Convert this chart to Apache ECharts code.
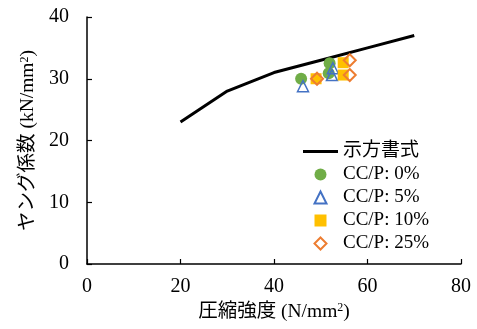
<!DOCTYPE html>
<html>
<head>
<meta charset="utf-8">
<script src="https://cdn.jsdelivr.net/npm/echarts@6/dist/echarts.min.js"></script>
<style>html,body{margin:0;padding:0;background:#fff}#c{width:477px;height:329px}</style>
</head>
<body>
<div id="c"></div>
<script>
const seriesNames = ['示方書式', 'CC/P: 0%', 'CC/P: 5%', 'CC/P: 10%', 'CC/P: 25%'];
const specLine = [[20, 23], [30, 28], [40, 31], [50, 33], [60, 35], [70, 37]];
const cc0 = [[45.8, 30.0], [51.9, 32.5], [51.7, 30.9]];
const cc5 = [[46.2, 28.8], [52.6, 31.7], [52.4, 30.6]];
const cc10 = [[49.0, 30.0], [54.8, 32.6], [54.8, 30.6]];
const cc25 = [[49.2, 30.0], [56.2, 33.0], [56.2, 30.6]];
const xTicks = [0, 20, 40, 60, 80];
const yTicks = [0, 10, 20, 30, 40];

const FONT = '"Liberation Serif", "Noto Sans CJK JP", serif';
const ICON_LINE = 'path://M0,0H37V3H0Z';
const ICON_CIRCLE = 'path://M50,0A50,50,0,1,1,50,100A50,50,0,1,1,50,0Z';
const ICON_TRI = 'path://M50,0L100,100L0,100Z';
const ICON_RECT = 'path://M0,0H100V100H0Z';
const ICON_DIA = 'path://M50,0L100,50L50,100L0,50Z';
const rich = {
  a: { fontSize: 19.5, fontFamily: FONT, color: '#000' },
  s: { fontSize: 12, fontFamily: FONT, color: '#000', verticalAlign: 'top', padding: [0, 0, 7, 0] }
};
const chart = echarts.init(document.getElementById('c'));
chart.setOption({
  animation: false,
  grid: { left: 87, right: 16, top: 17, bottom: 65 },
  xAxis: {
    type: 'value', min: xTicks[0], max: xTicks[xTicks.length - 1], interval: 20,
    axisLine: { lineStyle: { color: '#000', width: 1.5 } },
    axisTick: { inside: true, length: 5, lineStyle: { color: '#000', width: 1.2 } },
    splitLine: { show: false },
    axisLabel: { color: '#000', fontSize: 20, fontFamily: FONT, margin: 13 },
    name: '{a|圧縮強度 (N/mm}{s|2}{a|)}',
    nameLocation: 'middle', nameGap: 38,
    nameTextStyle: { rich }
  },
  yAxis: {
    type: 'value', min: yTicks[0], max: yTicks[yTicks.length - 1], interval: 10,
    axisLine: { show: true, lineStyle: { color: '#000', width: 1.5 } },
    axisTick: { show: true, inside: true, length: 5, lineStyle: { color: '#000', width: 1.2 } },
    splitLine: { show: false },
    axisLabel: { color: '#000', fontSize: 20, fontFamily: FONT, margin: 18 },
    name: '{a|ヤング係数 (kN/mm}{s|2}{a|)}',
    nameLocation: 'middle', nameGap: 48,
    nameTextStyle: { rich }
  },
  legend: {
    orient: 'vertical', left: 298, top: 137,
    itemWidth: 35, itemHeight: 12, itemGap: 4,
    symbolKeepAspect: true,
    textStyle: { fontSize: 19, fontFamily: FONT, color: '#000' },
    data: [
      { name: seriesNames[0], icon: ICON_LINE, itemStyle: { color: '#000' } },
      { name: seriesNames[1], icon: ICON_CIRCLE },
      { name: seriesNames[2], icon: ICON_TRI },
      { name: seriesNames[3], icon: ICON_RECT },
      { name: seriesNames[4], icon: ICON_DIA }
    ]
  },
  series: [
    { name: seriesNames[0], type: 'line', data: specLine, symbol: 'none',
      lineStyle: { color: '#000', width: 3 }, itemStyle: { color: '#000' }, z: 1 },
    { name: seriesNames[1], type: 'scatter', data: cc0, symbol: 'circle', symbolSize: 12,
      itemStyle: { color: '#70AD47', opacity: 1 }, z: 2 },
    { name: seriesNames[2], type: 'scatter', data: cc5, symbol: 'triangle', symbolSize: [11, 11],
      itemStyle: { color: 'rgba(255,255,255,0)', borderColor: '#4472C4', borderWidth: 1.5, opacity: 1 }, z: 3 },
    { name: seriesNames[3], type: 'scatter', data: cc10, symbol: 'rect', symbolSize: 11,
      itemStyle: { color: '#FFC000', opacity: 1 }, z: 4 },
    { name: seriesNames[4], type: 'scatter', data: cc25, symbol: 'diamond', symbolSize: 12,
      itemStyle: { color: 'rgba(255,255,255,0)', borderColor: '#ED7D31', borderWidth: 2, opacity: 1 }, z: 5 }
  ]
});
</script>
</body>
</html>
